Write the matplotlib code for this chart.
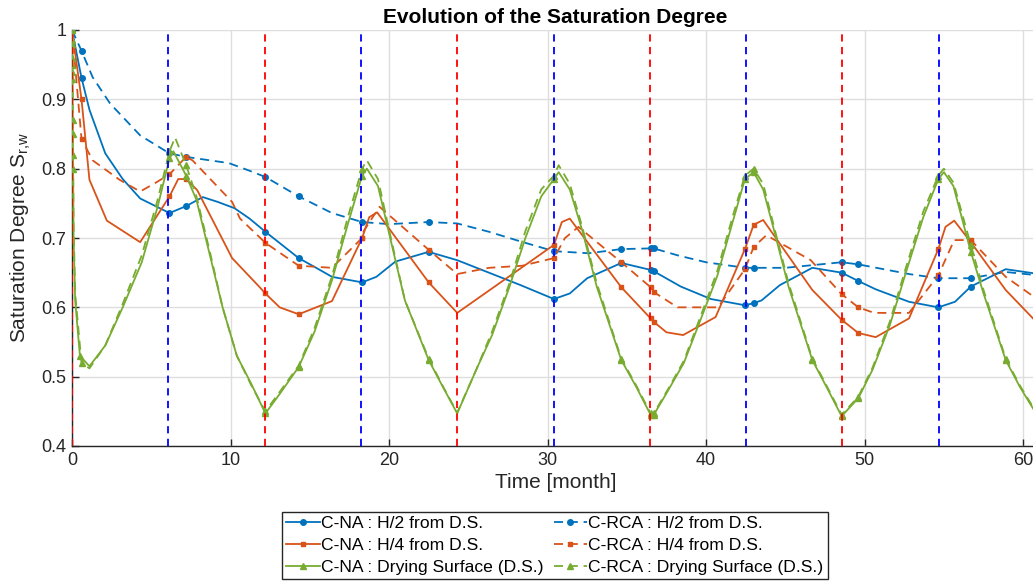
import numpy as np
import matplotlib
matplotlib.use("Agg")
import matplotlib.pyplot as plt

plt.rcParams['font.family'] = ['Liberation Sans', 'DejaVu Sans']

# ---------------- data ----------------
# C-NA : H/2 from D.S.
t_na_h2 = [0, 0.6, 1.1, 2.1, 3.2, 4.3, 6.15, 7.2, 8.25, 9.2, 10.25, 11.2, 12.2, 14.3, 15.4, 16.4,
           18.3, 19.2, 20.4, 22.5, 24.3, 26.3, 28.3, 30.4, 31.4, 32.5, 34.65, 36.5, 36.7, 38.4, 40.3,
           42.45, 43.0, 43.5, 44.65, 46.7, 48.55, 49.6, 50.7, 52.8, 54.65, 55.7, 56.7, 58.9, 61.0]
v_na_h2 = [1.0, 0.931, 0.885, 0.822, 0.785, 0.757, 0.736, 0.746, 0.759, 0.752, 0.743, 0.728, 0.709,
           0.671, 0.657, 0.644, 0.636, 0.644, 0.666, 0.680, 0.668, 0.650, 0.632, 0.612, 0.620, 0.642,
           0.664, 0.654, 0.652, 0.630, 0.612, 0.603, 0.606, 0.610, 0.632, 0.657, 0.650, 0.638, 0.626,
           0.608, 0.600, 0.608, 0.630, 0.655, 0.648]
m_na_h2 = [0, 0.6, 6.15, 7.2, 12.2, 14.3, 18.3, 22.5, 30.4, 34.65, 36.5, 36.7, 42.45, 43.0,
           48.55, 49.6, 54.65, 56.7]

# C-RCA : H/2 from D.S.
t_rca_h2 = [0, 0.6, 1.3, 2.4, 4.3, 6.15, 7.2, 9.9, 11.2, 12.2, 14.3, 16.4, 18.3, 20.0, 22.5, 24.3,
            26.3, 28.3, 30.4, 32.6, 34.65, 36.5, 36.7, 38.2, 40.0, 42.45, 43.0, 45.0, 48.55, 49.6,
            52.8, 54.65, 56.7, 58.9, 61.0]
v_rca_h2 = [1.0, 0.970, 0.932, 0.894, 0.848, 0.822, 0.817, 0.808, 0.797, 0.788, 0.760, 0.736, 0.723,
            0.720, 0.723, 0.721, 0.709, 0.695, 0.681, 0.678, 0.684, 0.685, 0.685, 0.675, 0.665, 0.657,
            0.657, 0.657, 0.665, 0.662, 0.648, 0.642, 0.642, 0.651, 0.646]
m_rca_h2 = [0, 0.6, 6.15, 7.2, 12.2, 14.3, 18.3, 22.5, 30.4, 34.65, 36.5, 36.7, 42.45, 43.0,
            48.55, 49.6, 54.65, 56.7]

# C-NA : H/4 from D.S.
t_na_h4 = [0, 0.6, 1.1, 2.2, 4.3, 6.15, 6.7, 7.2, 7.9, 10.1, 11.8, 12.2, 13.1, 14.3, 16.4, 18.3,
           18.75, 19.25, 22.5, 24.3, 30.4, 30.9, 31.4, 34.65, 36.5, 36.7, 37.5, 38.55, 40.6, 42.45,
           43.0, 43.6, 46.7, 48.55, 49.6, 50.7, 52.8, 54.65, 55.1, 55.65, 56.7, 58.9, 61.0]
v_na_h4 = [1.0, 0.900, 0.784, 0.725, 0.694, 0.760, 0.785, 0.785, 0.769, 0.671, 0.630, 0.620, 0.600,
           0.590, 0.609, 0.700, 0.730, 0.737, 0.636, 0.592, 0.690, 0.723, 0.728, 0.629, 0.584, 0.579,
           0.564, 0.560, 0.586, 0.684, 0.719, 0.726, 0.625, 0.582, 0.563, 0.557, 0.584, 0.684, 0.716,
           0.725, 0.694, 0.625, 0.575]
m_na_h4 = [0, 0.6, 6.15, 7.2, 12.2, 14.3, 18.3, 22.5, 30.4, 34.65, 36.5, 36.7, 42.45, 43.0,
           48.55, 49.6, 54.65, 56.7]

# C-RCA : H/4 from D.S.
t_rca_h4 = [0, 0.6, 1.3, 3.0, 4.3, 5.3, 6.15, 7.2, 7.6, 10.1, 10.6, 12.2, 14.3, 16.4, 18.3, 18.4,
            19.4, 22.5, 24.3, 26.3, 28.4, 30.4, 31.1, 31.95, 34.65, 36.5, 36.7, 38.2, 40.75, 42.45,
            43.0, 43.8, 46.6, 48.55, 49.6, 50.6, 52.8, 54.65, 55.65, 56.7, 58.9, 61.0]
v_rca_h4 = [1.0, 0.843, 0.812, 0.784, 0.767, 0.780, 0.792, 0.817, 0.812, 0.752, 0.728, 0.693, 0.660,
            0.657, 0.700, 0.710, 0.745, 0.683, 0.648, 0.657, 0.660, 0.671, 0.700, 0.716, 0.665, 0.629,
            0.622, 0.600, 0.600, 0.655, 0.687, 0.704, 0.668, 0.619, 0.600, 0.592, 0.592, 0.646, 0.697,
            0.697, 0.644, 0.610]
m_rca_h4 = [0, 0.6, 6.15, 7.2, 12.2, 14.3, 18.3, 22.5, 30.4, 34.65, 36.5, 36.7, 42.45, 43.0,
            48.55, 49.6, 54.65, 56.7]

# C-NA : Drying Surface (D.S.)
t_na_ds = [0, 0.01, 0.02, 0.03, 0.05, 0.07, 0.1, 0.2, 0.5, 1.1, 2.1, 3.2, 4.4, 5.4, 6.15, 6.4, 7.2,
           7.85, 8.7, 9.5, 10.4, 11.3, 12.2, 13.1, 14.3, 15.3, 16.4, 17.4, 18.3, 18.6, 19.3, 20.0,
           21.0, 22.5, 23.4, 24.3, 25.5, 26.5, 27.6, 28.6, 29.6, 30.4, 30.7, 31.4, 32.2, 33.1, 34.65,
           35.6, 36.5, 36.7, 37.6, 38.6, 39.7, 40.7, 41.7, 42.45, 43.0, 43.6, 44.3, 45.2, 46.7, 47.6,
           48.55, 49.6, 50.5, 51.6, 52.6, 53.7, 54.65, 55.0, 55.6, 56.7, 57.5, 58.9, 59.8, 61.0]
v_na_ds = [1.0, 0.98, 0.95, 0.93, 0.85, 0.80, 0.70, 0.61, 0.53, 0.515, 0.545, 0.60, 0.665, 0.745,
           0.815, 0.825, 0.79, 0.755, 0.675, 0.60, 0.53, 0.49, 0.447, 0.475, 0.514, 0.565, 0.639,
           0.72, 0.79, 0.80, 0.775, 0.707, 0.61, 0.524, 0.485, 0.447, 0.51, 0.56, 0.63, 0.70, 0.76,
           0.785, 0.795, 0.77, 0.71, 0.63, 0.524, 0.485, 0.445, 0.445, 0.48, 0.52, 0.585, 0.645,
           0.725, 0.785, 0.795, 0.77, 0.71, 0.63, 0.524, 0.485, 0.443, 0.469, 0.51, 0.575, 0.65,
           0.73, 0.785, 0.795, 0.775, 0.68, 0.62, 0.524, 0.485, 0.44]
m_na_ds = [0, 0.01, 0.02, 0.03, 0.05, 0.07, 0.5, 6.15, 7.2, 12.2, 14.3, 18.3, 22.5, 30.4, 34.65,
           36.5, 36.7, 42.45, 43.0, 46.7, 48.55, 49.6, 54.65, 56.7, 58.9]

# C-RCA : Drying Surface (D.S.)
t_rca_ds = [0, 0.01, 0.02, 0.03, 0.05, 0.07, 0.1, 0.2, 0.6, 1.1, 2.1, 3.2, 4.4, 5.4, 6.15, 6.5, 7.2,
            7.85, 8.7, 9.5, 10.4, 11.3, 12.2, 13.1, 14.3, 15.3, 16.4, 17.4, 18.3, 18.6, 19.3, 20.0,
            21.0, 22.5, 23.4, 24.3, 25.5, 26.5, 27.6, 28.6, 29.6, 30.4, 30.7, 31.4, 32.2, 33.1, 34.65,
            35.6, 36.5, 36.7, 37.6, 38.6, 39.7, 40.7, 41.7, 42.45, 43.0, 43.6, 44.3, 45.2, 46.7, 47.6,
            48.55, 49.6, 50.5, 51.6, 52.6, 53.7, 54.65, 55.0, 55.6, 56.7, 57.5, 58.9, 59.8, 61.0]
v_rca_ds = [1.0, 0.985, 0.96, 0.94, 0.87, 0.82, 0.72, 0.62, 0.519, 0.512, 0.545, 0.605, 0.675, 0.755,
            0.825, 0.845, 0.805, 0.76, 0.68, 0.60, 0.53, 0.488, 0.45, 0.478, 0.516, 0.57, 0.645,
            0.73, 0.80, 0.812, 0.785, 0.712, 0.61, 0.526, 0.486, 0.448, 0.51, 0.565, 0.635, 0.71,
            0.77, 0.79, 0.805, 0.778, 0.715, 0.635, 0.526, 0.487, 0.447, 0.447, 0.482, 0.523, 0.59,
            0.652, 0.733, 0.79, 0.80, 0.778, 0.715, 0.635, 0.526, 0.487, 0.445, 0.471, 0.513, 0.58,
            0.657, 0.738, 0.79, 0.80, 0.78, 0.69, 0.625, 0.526, 0.487, 0.442]
m_rca_ds = [0, 0.01, 0.02, 0.03, 0.05, 0.07, 0.6, 6.15, 7.2, 12.2, 14.3, 18.3, 22.5, 30.4, 34.65,
            36.5, 36.7, 42.45, 43.0, 46.7, 48.55, 49.6, 54.65, 56.7, 58.9]

# Vertical reference lines (months)
wet_lines = [6.08, 18.23, 30.38, 42.53, 54.68]     # blue dashed
dry_lines = [0.0, 12.15, 24.3, 36.45, 48.6]        # red dashed

labels = ["C-NA : H/2 from D.S.", "C-RCA : H/2 from D.S.",
          "C-NA : H/4 from D.S.", "C-RCA : H/4 from D.S.",
          "C-NA : Drying Surface (D.S.)", "C-RCA : Drying Surface (D.S.)"]

x_ticks = [0, 10, 20, 30, 40, 50, 60]
y_ticks = [0.4, 0.5, 0.6, 0.7, 0.8, 0.9, 1.0]
y_ticklabels = ["0.4", "0.5", "0.6", "0.7", "0.8", "0.9", "1"]

# ---------------- plot ----------------
C_BLUE = "#0072BD"
C_ORANGE = "#D95319"
C_GREEN = "#77AC30"

W, H = 1033, 583
fig = plt.figure(figsize=(W / 100, H / 100), dpi=100)
ax_left = 72 / W
ax_bottom = 1 - 446 / H
ax_height = (446 - 30) / H
ax_width = (1039 - 72) / W
ax = fig.add_axes([ax_left, ax_bottom, ax_width, ax_height])


def idx(t, marks):
    t = np.asarray(t)
    return [int(np.argmin(np.abs(t - m))) for m in marks]


dash = (0, (5, 3.2))
series = [
    (t_na_h2, v_na_h2, m_na_h2, C_BLUE, '-', 'o', 4.0, labels[0]),
    (t_rca_h2, v_rca_h2, m_rca_h2, C_BLUE, dash, 'o', 4.0, labels[1]),
    (t_na_h4, v_na_h4, m_na_h4, C_ORANGE, '-', 's', 3.5, labels[2]),
    (t_rca_h4, v_rca_h4, m_rca_h4, C_ORANGE, dash, 's', 3.5, labels[3]),
    (t_na_ds, v_na_ds, m_na_ds, C_GREEN, '-', '^', 4.5, labels[4]),
    (t_rca_ds, v_rca_ds, m_rca_ds, C_GREEN, dash, '^', 4.5, labels[5]),
]
handles = {}
for t, v, m, c, ls, mk, ms, lab in series:
    h, = ax.plot(t, v, color=c, linestyle=ls, linewidth=1.3, marker=mk, markersize=ms,
                 markevery=idx(t, m), markerfacecolor=c, markeredgecolor=c, label=lab,
                 clip_on=True, zorder=3)
    handles[lab] = h

for x in wet_lines:
    ax.axvline(x, color='b', linestyle=(0, (4, 3)), linewidth=1.3, zorder=4)
for x in dry_lines:
    ax.axvline(x, color='r', linestyle=(0, (4, 3)), linewidth=1.3, zorder=4)

ax.set_xlim(0, 61)
ax.set_ylim(0.4, 1.0)
ax.set_xticks(x_ticks)
ax.set_yticks(y_ticks)
ax.set_yticklabels(y_ticklabels)
ax.grid(True, color='#dedede', linewidth=1.0, zorder=0)
ax.set_axisbelow(True)
for s in ['top', 'right']:
    ax.spines[s].set_visible(False)
for s in ['left', 'bottom']:
    ax.spines[s].set_color('#262626')
    ax.spines[s].set_linewidth(1.0)
ax.tick_params(direction='in', length=5, width=1.0, colors='#262626', labelsize=13,
               labelcolor='#262626', pad=4)

ax.set_xlabel("Time [month]", fontsize=15, color='#262626', labelpad=3)
ax.set_ylabel(r"Saturation Degree S$_{\mathregular{r{,}w}}$", fontsize=15, color='#262626',
              labelpad=6)
ax.set_title("Evolution of the Saturation Degree", fontsize=15, fontweight='bold',
             color='black', pad=5)

order = [labels[0], labels[2], labels[4], labels[1], labels[3], labels[5]]
leg = fig.legend([handles[l] for l in order], order, loc='upper center',
                 bbox_to_anchor=(555 / W, 1 - 512 / H), ncol=2, fontsize=12.6,
                 frameon=True, fancybox=False, edgecolor='#262626', framealpha=1,
                 borderpad=0.22, labelspacing=0.38, handlelength=1.9, handletextpad=0.1,
                 columnspacing=0.55, borderaxespad=0)
leg.get_frame().set_linewidth(1.0)

fig.savefig("out.png", dpi=100)
